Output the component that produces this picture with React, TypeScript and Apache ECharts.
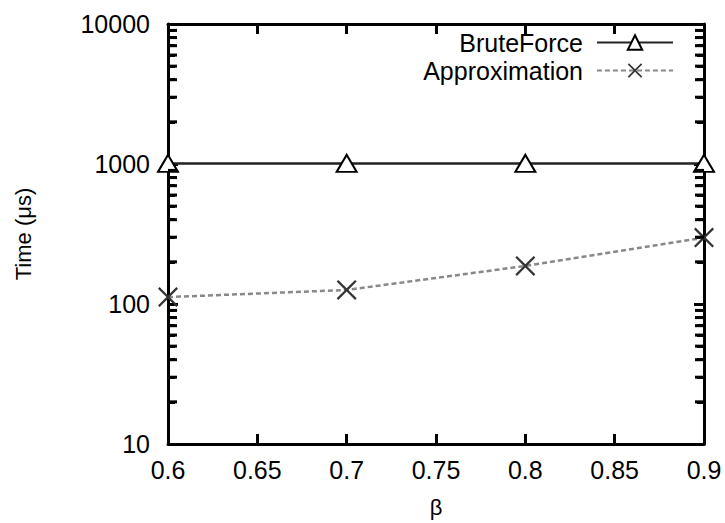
import React, { useEffect, useRef } from "react";
import * as echarts from "echarts";

const betas = [0.6, 0.7, 0.8, 0.9];
const bruteForce = [1010, 1010, 1010, 1010];
const approximation = [112, 126, 187, 298];
const xMin = 0.6;
const xMax = 0.9;
const yMin = 10;
const yMax = 10000;
const yMinorTicks = [20, 30, 40, 50, 60, 70, 80, 90, 200, 300, 400, 500, 600, 700, 800, 900, 2000, 3000, 4000, 5000, 6000, 7000, 8000, 9000];

const FONT = "Liberation Sans, Arial, sans-serif";
const CROSS = "path://M0,1.6L1.6,0L10,8.4L18.4,0L20,1.6L11.6,10L20,18.4L18.4,20L10,11.6L1.6,20L0,18.4L8.4,10Z";

export default function App() {
  const ref = useRef<HTMLDivElement>(null);
  useEffect(() => {
    const chart = echarts.init(ref.current!, null, { renderer: "svg" });
    const axisLine = { show: true, lineStyle: { color: "#000", width: 3 } };
    const majorTick = { show: true, inside: true, length: 10, lineStyle: { color: "#000", width: 3 } };
    const minorAxis = (position: string) => ({
      type: "value",
      min: Math.log10(yMin),
      max: Math.log10(yMax),
      position,
      axisLine: { show: false },
      axisTick: { show: true, inside: true, length: 7, customValues: yMinorTicks.map((v) => Math.log10(v)), lineStyle: { color: "#000", width: 3 } },
      axisLabel: { show: false },
      splitLine: { show: false },
    });
    const minorSeries = (name: string, x: number, dx: number) => ({
      name,
      type: "scatter",
      xAxisIndex: 0,
      yAxisIndex: 0,
      silent: true,
      clip: false,
      data: yMinorTicks.map((v) => [x, v]),
      symbol: "rect",
      symbolSize: [9, 3],
      symbolOffset: [dx, 0],
      itemStyle: { color: "#000", opacity: 1 },
      z: 4,
    });
    chart.setOption({
      animation: false,
      backgroundColor: "#fff",
      grid: { left: 168, right: 21, top: 24, bottom: 77 },
      legend: {
        orient: "vertical",
        right: 46,
        top: 25,
        align: "right",
        itemWidth: 76,
        itemHeight: 18,
        itemGap: 3,
        textStyle: { fontSize: 25, color: "#000", fontFamily: FONT, padding: [0, 9, 0, 0] },
        data: ["BruteForce", "Approximation"],
      },
      xAxis: [
        {
          type: "value",
          min: xMin,
          max: xMax,
          interval: 0.05,
          position: "bottom",
          name: "β",
          nameLocation: "middle",
          nameGap: 52,
          nameTextStyle: { fontSize: 22, color: "#000", fontFamily: FONT },
          axisLine,
          axisTick: majorTick,
          axisLabel: { fontSize: 25, color: "#000", fontFamily: FONT, margin: 13, formatter: (v: number) => String(+v.toFixed(2)) },
          splitLine: { show: false },
        },
        {
          type: "value",
          min: xMin,
          max: xMax,
          interval: 0.05,
          position: "top",
          axisLine,
          axisTick: majorTick,
          axisLabel: { show: false },
          splitLine: { show: false },
        },
      ],
      yAxis: [
        {
          type: "log",
          logBase: 10,
          min: yMin,
          max: yMax,
          position: "left",
          name: "Time (μs)",
          nameLocation: "middle",
          nameGap: 134,
          nameRotate: 90,
          nameTextStyle: { fontSize: 22, color: "#000", fontFamily: FONT },
          axisLine,
          axisTick: majorTick,
          axisLabel: { fontSize: 25, color: "#000", fontFamily: FONT, margin: 18, formatter: (v: number) => String(Math.round(v)) },
          splitLine: { show: false },
        },
        {
          type: "log",
          logBase: 10,
          min: yMin,
          max: yMax,
          position: "right",
          axisLine,
          axisTick: majorTick,
          axisLabel: { show: false },
          splitLine: { show: false },
        },
        minorAxis("left"),
        minorAxis("right"),
      ],
      series: [
        {
          name: "BruteForce",
          type: "line",
          data: betas.map((b, i) => [b, bruteForce[i]]),
          symbol: "triangle",
          symbolSize: [20, 17],
          lineStyle: { color: "#222", width: 2.5 },
          itemStyle: { color: "#fff", borderColor: "#000", borderWidth: 2 },
          z: 3,
        },
        {
          name: "Approximation",
          type: "line",
          data: betas.map((b, i) => [b, approximation[i]]),
          symbol: CROSS,
          symbolSize: 20,
          lineStyle: { color: "#888", width: 2.5, type: [5, 3] },
          itemStyle: { color: "#333" },
          z: 3,
        },
        minorSeries("minorLeft", xMin, 4.5),
        minorSeries("minorRight", xMax, -4.5),
      ],
    });
    return () => chart.dispose();
  }, []);
  return <div ref={ref} style={{ width: 725, height: 523, position: "absolute", left: 0, top: 0 }} />;
}
